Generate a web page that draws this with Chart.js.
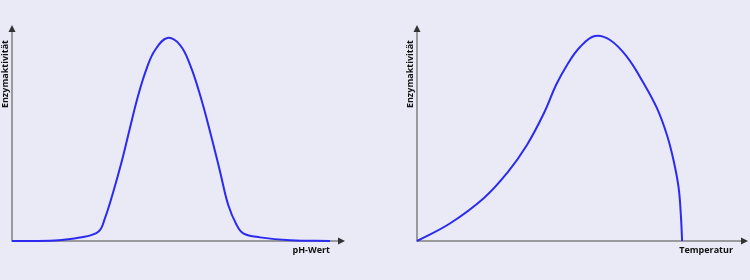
<!DOCTYPE html>
<html>
<head>
<meta charset="utf-8">
<script src="https://cdn.jsdelivr.net/npm/chart.js@4"></script>
<style>
  html, body { margin: 0; padding: 0; background: #eae9f6; }
  #wrap { position: relative; width: 750px; height: 280px; overflow: hidden; }
  canvas { position: absolute; top: 0; }
  #ph-chart { left: 0; }
  #temp-chart { left: 405px; }
</style>
</head>
<body>
<div id="wrap">
  <canvas id="ph-chart" width="360" height="280"></canvas>
  <canvas id="temp-chart" width="345" height="280"></canvas>
</div>
<script>
// --- Data: enzyme activity vs pH ---
const phValues = [0, 1.89, 2.99, 3.80, 4.09, 4.46, 4.83, 5.19, 5.56, 5.93, 6.30, 6.84,
    7.40, 7.84, 8.28, 8.72, 9.16, 9.52, 9.89, 10.18, 10.92, 12.24, 14];
const phActivity = [0, 0.25, 1.7, 4.6, 11.3, 24.5, 39.5, 56.1, 72.6, 85.9, 95.0, 101,
    97.5, 87.6, 72.6, 54.4, 34.5, 17.9, 8.0, 3.8, 1.8, 0.35, 0];

// --- Data: enzyme activity vs temperature ---
const tempValues = [0, 10.4, 21.2, 28.5, 34.8, 40.2, 44.0, 47.5, 51.6, 56.3, 61.1, 66.5,
    71.5, 75.9, 79.1, 81.3, 82.8, 83.5, 83.9];
const tempActivity = [0, 8.7, 21.4, 33.8, 47.8, 63.7, 77.6, 87.6, 96.5, 102, 100, 91.5,
    79.1, 66.2, 52.7, 39.3, 26.4, 12.9, 0];

const yLabel = 'Enzymaktivität';
const phLabel = 'pH-Wert';
const tempLabel = 'Temperatur';

const titleFont = { family: 'Open Sans', size: 9, weight: 'bold' };

// axes with arrow heads, drawn under the curve
const arrowAxes = {
    id: 'arrowAxes',
    beforeDatasetsDraw(chart) {
        const { ctx, chartArea: { left, right, top, bottom } } = chart;
        const ext = 15;
        ctx.save();
        ctx.strokeStyle = '#808080';
        ctx.lineWidth = 1.5;
        ctx.beginPath();
        ctx.moveTo(left, top - ext + 3);
        ctx.lineTo(left, bottom);
        ctx.lineTo(right + ext - 3, bottom);
        ctx.stroke();
        ctx.fillStyle = '#333';
        ctx.beginPath();
        ctx.moveTo(left, top - ext);
        ctx.lineTo(left - 3.5, top - ext + 7);
        ctx.lineTo(left + 3.5, top - ext + 7);
        ctx.closePath();
        ctx.fill();
        ctx.beginPath();
        ctx.moveTo(right + ext, bottom);
        ctx.lineTo(right + ext - 7, bottom - 3.5);
        ctx.lineTo(right + ext - 7, bottom + 3.5);
        ctx.closePath();
        ctx.fill();
        ctx.restore();
    }
};

function makeChart(id, xs, ys, xMax, xTitle, padRight) {
    const ctx = document.getElementById(id).getContext('2d');
    return new Chart(ctx, {
        type: 'line',
        data: {
            datasets: [{
                data: xs.map((x, i) => ({ x: x, y: ys[i] })),
                borderColor: '#2b2bf0',
                borderWidth: 2,
                pointRadius: 0,
                tension: 0.4,
                capBezierPoints: false,
                clip: false
            }]
        },
        options: {
            responsive: false,
            animation: false,
            devicePixelRatio: 1,
            layout: { padding: { top: 40, right: padRight, bottom: 24, left: 0 } },
            plugins: { legend: { display: false }, tooltip: { enabled: false } },
            scales: {
                x: {
                    type: 'linear', min: 0, max: xMax,
                    grid: { display: false }, border: { display: false },
                    ticks: { display: false },
                    title: { display: true, text: xTitle, align: 'end', color: '#111', font: titleFont, padding: 0 },
                    afterFit: (scale) => { scale.height = 15; }
                },
                y: {
                    min: 0, max: 100,
                    grid: { display: false }, border: { display: false },
                    ticks: { display: false },
                    title: { display: true, text: yLabel, align: 'end', color: '#111', font: titleFont, padding: 0 },
                    afterFit: (scale) => { scale.width = 12; }
                }
            }
        },
        plugins: [arrowAxes]
    });
}

makeChart('ph-chart', phValues, phActivity, 14, phLabel, 30);
makeChart('temp-chart', tempValues, tempActivity, 100, tempLabel, 17);
</script>
</body>
</html>
